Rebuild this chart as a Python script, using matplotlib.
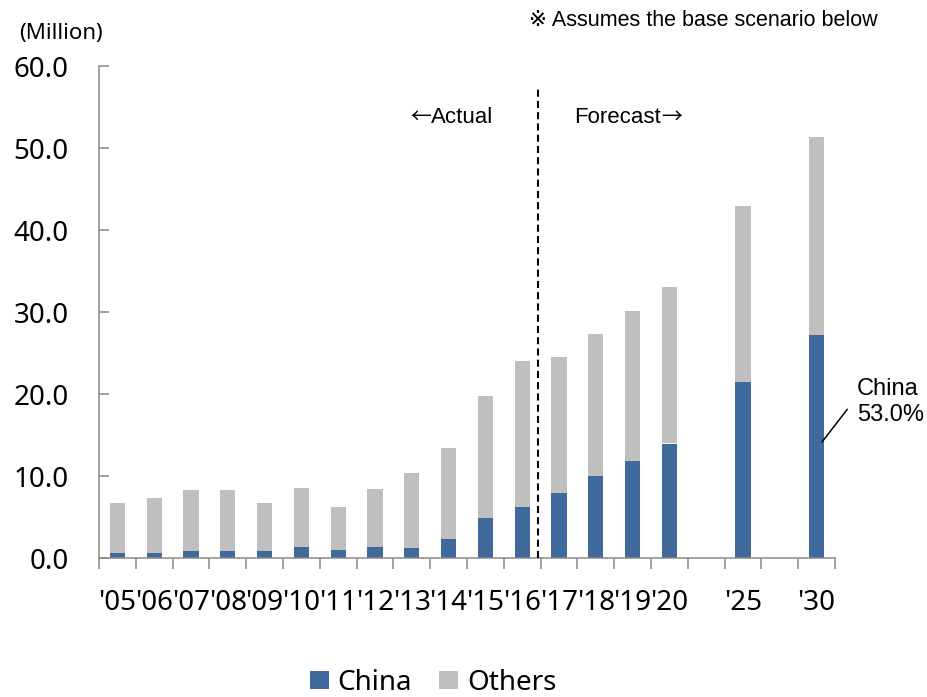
import numpy as np
import matplotlib
matplotlib.use("Agg")
import matplotlib.pyplot as plt

# data (million), blank slots are gaps on the axis
categories = ["'05", "'06", "'07", "'08", "'09", "'10", "'11", "'12", "'13", "'14",
              "'15", "'16", "'17", "'18", "'19", "'20", "", "'25", "", "'30"]
china = [0.6, 0.7, 0.9, 0.9, 0.9, 1.4, 1.0, 1.4, 1.2, 2.3,
         4.9, 6.3, 8.0, 10.0, 11.9, 14.0, np.nan, 21.5, np.nan, 27.2]
total = [6.7, 7.3, 8.3, 8.3, 6.8, 8.6, 6.2, 8.4, 10.4, 13.4,
         19.8, 24.1, 24.5, 27.4, 30.2, 33.1, np.nan, 43.0, np.nan, 51.4]
others = [t - c for t, c in zip(total, china)]

c_china = "#416a9c"
c_others = "#bfbfbf"
axis_grey = "#898989"
num_font = "Noto Sans"
txt_font = ["Liberation Sans", "DejaVu Sans"]
arrow_font = ["Noto Sans CJK JP", "DejaVu Sans"]

fig = plt.figure(figsize=(9.27, 6.97), dpi=100)
ax = fig.add_axes([99 / 927, 1 - 558.3 / 697, 736 / 927, 492 / 697])

x = np.arange(len(categories))
w = 0.41
ax.bar(x, china, w, color=c_china, label="China", zorder=2)
ax.bar(x, others, w, bottom=china, color=c_others, label="Others", zorder=2)

ax.set_xlim(-0.5, len(categories) - 0.5)
ax.set_ylim(0, 60)

ax.set_yticks(np.arange(0, 61, 10))
ax.set_yticklabels([f"{v:.1f}" for v in np.arange(0, 61, 10)],
                   fontsize=20, family=num_font)
ax.tick_params(axis="y", direction="in", length=7, width=1.1,
               color=axis_grey, pad=22)

ax.set_xticks(x)
ax.set_xticklabels(categories, fontsize=20, family=num_font)
ax.set_xticks(np.arange(-0.5, len(categories), 1), minor=True)
ax.tick_params(axis="x", which="major", length=0, pad=22)
ax.tick_params(axis="x", which="minor", direction="out", length=8,
               width=1.1, color=axis_grey)

for s in ["top", "right"]:
    ax.spines[s].set_visible(False)
for s in ["left", "bottom"]:
    ax.spines[s].set_color(axis_grey)
    ax.spines[s].set_linewidth(1.1)

# actual / forecast divider
ax.plot([11.42, 11.42], [0, 57.5], color="black", lw=1.5,
        linestyle=(0, (3.4, 2)), zorder=3, clip_on=False)
ax.text(8.52, 53.8, "←", fontsize=15, family=arrow_font,
        ha="right", va="center")
ax.text(8.52, 53.8, "Actual", fontsize=16, family=txt_font,
        ha="left", va="center")
ax.text(14.78, 53.8, "Forecast", fontsize=16, family=txt_font,
        ha="right", va="center")
ax.text(14.78, 53.8, "→", fontsize=15, family=arrow_font,
        ha="left", va="center")

# share callout for '30
ax.plot([19.15, 19.83], [14.2, 18.15], color="black", lw=1.1, clip_on=False)
ax.text(20.1, 19.1, "China\n53.0%", fontsize=17, family=txt_font,
        ha="left", va="center", linespacing=1.25, clip_on=False)

fig.text(61 / 927, 1 - 33 / 697, "(Million)", fontsize=16, family=num_font,
         ha="center", va="center")
fig.text(703.5 / 927, 1 - 20 / 697, "※ Assumes the base scenario below",
         fontsize=15.5, family=txt_font, ha="center", va="center")

fig.legend(loc="center", bbox_to_anchor=(433 / 927, 1 - 683 / 697), ncol=2,
           frameon=False, prop={"family": num_font, "size": 20},
           handlelength=0.68, handleheight=0.61, handletextpad=0.32,
           columnspacing=0.97, borderpad=0.1)

fig.savefig("out.png", dpi=100)
